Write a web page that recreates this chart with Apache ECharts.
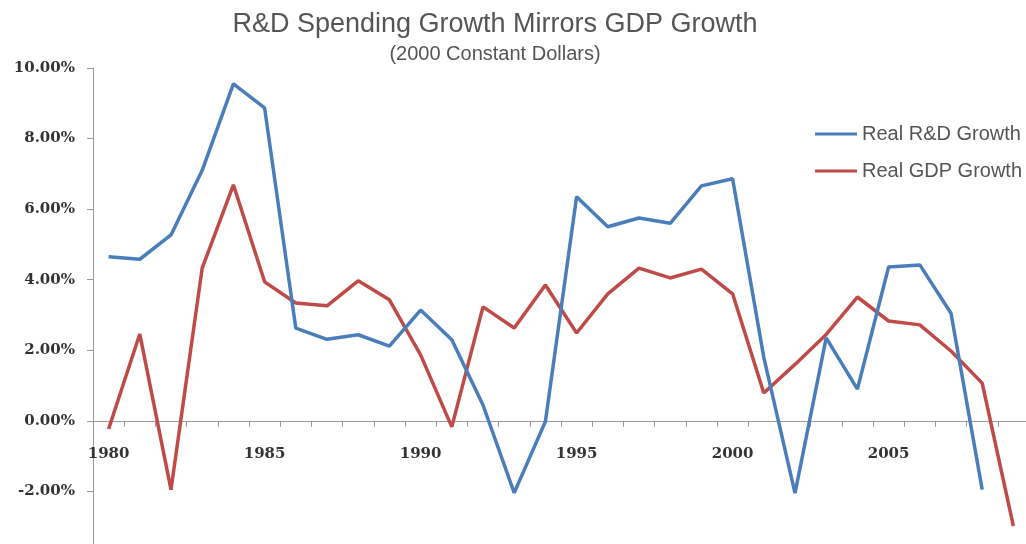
<!DOCTYPE html>
<html>
<head>
<meta charset="utf-8">
<title>R&amp;D Spending Growth Mirrors GDP Growth</title>
<script src="https://cdn.jsdelivr.net/npm/echarts@6/dist/echarts.min.js"></script>
<style>
  html, body { margin: 0; padding: 0; background: #fff; }
  #chart { width: 1026px; height: 544px; }
</style>
</head>
<body>
<div id="chart"></div>
<script>
// Years on the category axis
const years = [
  '1980','1981','1982','1983','1984','1985','1986','1987','1988','1989',
  '1990','1991','1992','1993','1994','1995','1996','1997','1998','1999',
  '2000','2001','2002','2003','2004','2005','2006','2007','2008','2009'
];

// Annual real growth rates, percent
const rdGrowth = [
  4.65, 4.58, 5.27, 7.1, 9.55, 8.87, 2.63, 2.31, 2.44, 2.12,
  3.14, 2.3, 0.45, -2.04, -0.02, 6.35, 5.5, 5.75, 5.6, 6.66,
  6.86, 1.8, -2.05, 2.35, 0.9, 4.36, 4.42, 3.05, -1.95, null
];
const gdpGrowth = [
  -0.23, 2.46, -1.95, 4.33, 6.69, 3.94, 3.34, 3.26, 3.97, 3.43,
  1.87, -0.17, 3.23, 2.63, 3.85, 2.49, 3.6, 4.33, 4.05, 4.3,
  3.6, 0.79, 1.6, 2.45, 3.51, 2.83, 2.72, 1.98, 1.07, -2.98
];

// Value axis range and step, percent
const yMin = -4;
const yMax = 10;
const yStep = 2;

const seriesNames = ['Real R&D Growth', 'Real GDP Growth'];

// Plot area geometry (px)
const plotLeft = 93;
const plotTop = 68;
const plotWidth = 936;
const plotHeight = 494;

// The category axis sits on the zero line: lift it from the plot bottom
const zeroLift = plotHeight * (0 - yMin) / (yMax - yMin);

const chart = echarts.init(document.getElementById('chart'), null, { renderer: 'canvas' });

const tickFont = {
  fontFamily: '"DejaVu Serif", serif',
  fontWeight: 'bold',
  fontSize: 15,
  color: '#333'
};

chart.setOption({
  animation: false,
  backgroundColor: '#ffffff',
  title: {
    text: 'R&D Spending Growth Mirrors GDP Growth',
    subtext: '(2000 Constant Dollars)',
    left: 490,
    textAlign: 'center',
    top: 6,
    itemGap: 6,
    textStyle: {
      fontFamily: '"Liberation Sans", Arial, sans-serif',
      fontWeight: 'normal',
      fontSize: 27,
      color: '#555'
    },
    subtextStyle: {
      fontFamily: '"Liberation Sans", Arial, sans-serif',
      fontSize: 20,
      color: '#555'
    }
  },
  legend: {
    orient: 'vertical',
    left: 810,
    top: 119,
    itemWidth: 42,
    itemHeight: 3,
    itemGap: 17,
    icon: 'rect',
    textStyle: {
      fontFamily: '"Liberation Sans", Arial, sans-serif',
      fontSize: 20,
      lineHeight: 20,
      color: '#555'
    },
    data: seriesNames
  },
  grid: {
    left: plotLeft,
    top: plotTop,
    width: plotWidth,
    height: plotHeight,
    outerBoundsMode: 'none',
    containLabel: false
  },
  xAxis: {
    type: 'category',
    data: years,
    boundaryGap: true,
    position: 'bottom',
    offset: -zeroLift,
    axisLine: { onZero: false, lineStyle: { color: '#999', width: 1 } },
    axisTick: { show: true, interval: 0, length: 6, lineStyle: { color: '#999' } },
    axisLabel: Object.assign({ interval: 4, margin: 26 }, tickFont),
    splitLine: { show: false }
  },
  yAxis: {
    type: 'value',
    min: yMin,
    max: yMax,
    interval: yStep,
    axisLine: { show: true, lineStyle: { color: '#999', width: 1 } },
    axisTick: { show: true, length: 6, lineStyle: { color: '#999' } },
    axisLabel: Object.assign({
      margin: 18,
      formatter: v => v.toFixed(2) + '%'
    }, tickFont),
    splitLine: { show: false }
  },
  series: [
    {
      name: seriesNames[0],
      type: 'line',
      data: rdGrowth,
      symbol: 'none',
      connectNulls: false,
      itemStyle: { color: '#4A7EBB' },
      lineStyle: { color: '#4A7EBB', width: 3.5 },
      z: 3
    },
    {
      name: seriesNames[1],
      type: 'line',
      data: gdpGrowth,
      symbol: 'none',
      itemStyle: { color: '#BE4B48' },
      lineStyle: { color: '#BE4B48', width: 3.5 },
      z: 2
    }
  ]
});
</script>
</body>
</html>
